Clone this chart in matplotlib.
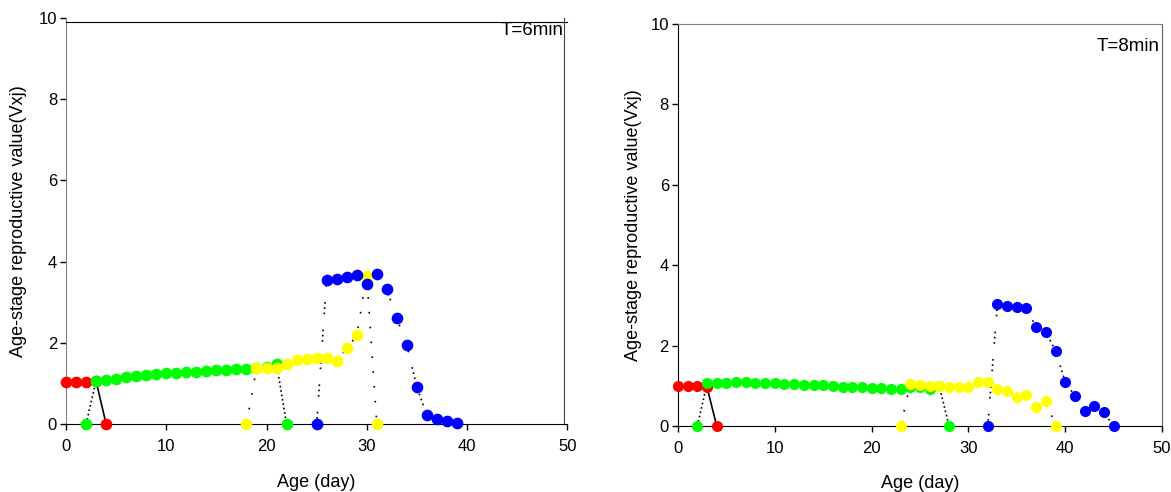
import matplotlib
matplotlib.use("Agg")
import matplotlib.pyplot as plt

plt.rcParams['font.family'] = ['Liberation Sans', 'DejaVu Sans']
plt.rcParams['lines.scale_dashes'] = False

# T=6min
egg_x6 = [0, 1, 2, 3, 4]
egg_y6 = [1.03, 1.03, 1.04, 1.05, 0]
larva_x6 = list(range(2, 23))
larva_y6 = [0, 1.07, 1.08, 1.12, 1.17, 1.19, 1.21, 1.23, 1.25, 1.26, 1.27,
            1.29, 1.31, 1.32, 1.33, 1.35, 1.36, 1.38, 1.40, 1.49, 0]
pupa_x6 = list(range(18, 32))
pupa_y6 = [0, 1.37, 1.39, 1.39, 1.49, 1.58, 1.59, 1.62, 1.63, 1.56, 1.86,
           2.18, 3.65, 0]
adult_x6 = list(range(25, 40))
adult_y6 = [0, 3.55, 3.58, 3.63, 3.67, 3.45, 3.69, 3.32, 2.60, 1.95, 0.90,
            0.22, 0.12, 0.07, 0.02]

# T=8min
egg_x8 = [0, 1, 2, 3, 4]
egg_y8 = [1.0, 1.0, 0.99, 0.96, 0]
larva_x8 = list(range(2, 29))
larva_y8 = [0, 1.06, 1.06, 1.08, 1.10, 1.10, 1.08, 1.07, 1.06, 1.05, 1.04,
            1.03, 1.02, 1.01, 1.00, 0.98, 0.97, 0.96, 0.95, 0.94, 0.93, 0.92,
            0.98, 0.96, 0.91, 0.99, 0]
pupa_x8 = list(range(23, 40))
pupa_y8 = [0, 1.04, 1.02, 1.0, 1.0, 0.98, 0.98, 0.96, 1.10, 1.10, 0.91, 0.87,
           0.71, 0.77, 0.48, 0.63, 0]
adult_x8 = list(range(32, 46))
adult_y8 = [0, 3.03, 2.99, 2.97, 2.93, 2.46, 2.33, 1.87, 1.10, 0.75, 0.38,
            0.50, 0.34, 0]

ticks_x = [0, 10, 20, 30, 40, 50]
ticks_y = [0, 2, 4, 6, 8, 10]

colors = ["#ff0000", "#00ff00", "#ffff00", "#0000ff"]
dashes = [None, (1.2, 2.0), (1.2, 9.5), (1.2, 2.6, 1.2, 2.6, 1.2, 11)]


def draw(ax, series, label, ms, txt_pos):
    for (x, y), c, d in zip(series, colors, dashes):
        line, = ax.plot(x, y, color="black", lw=1.2, zorder=2, clip_on=False)
        if d is not None:
            line.set_dashes(d)
        ax.plot(x, y, "o", color=c, mec=c, ms=ms, lw=0, zorder=3, clip_on=False)
    ax.set_xlim(0, 50)
    ax.set_ylim(0, 10)
    ax.set_xticks(ticks_x)
    ax.set_yticks(ticks_y)
    ax.tick_params(direction="out", length=4.5, width=1, labelsize=12)
    ax.tick_params(axis="x", pad=6)
    ax.tick_params(axis="y", pad=2)
    ax.set_xlabel("Age (day)", fontsize=13)
    ax.set_ylabel("Age-stage reproductive value(Vxj)", fontsize=13)
    ax.text(txt_pos[0], txt_pos[1], label, transform=ax.transAxes,
            ha="right", va="center", fontsize=13.5)


fig = plt.figure(figsize=(11.71, 4.92), dpi=100)

ax1 = fig.add_axes([0.0564, 0.1382, 0.428, 0.8252])
draw(ax1, [(egg_x6, egg_y6), (larva_x6, larva_y6), (pupa_x6, pupa_y6),
           (adult_x6, adult_y6)], "T=6min", 7.4, (0.992, 0.970))
ax1.spines["left"].set_color("#808080")
ax1.spines["top"].set_position(("data", 9.9))
ax1.spines["right"].set_position(("data", 49.65))
ax1.spines["right"].set_color("#404040")
ax1.xaxis.set_label_coords(0.5, -0.123)
ax1.yaxis.set_label_coords(-0.078, 0.5)

ax2 = fig.add_axes([0.579, 0.1341, 0.4133, 0.8171])
draw(ax2, [(egg_x8, egg_y8), (larva_x8, larva_y8), (pupa_x8, pupa_y8),
           (adult_x8, adult_y8)], "T=8min", 7.0, (0.996, 0.943))
ax2.spines["top"].set_color("#808080")
ax2.spines["right"].set_color("#606060")
ax2.xaxis.set_label_coords(0.5, -0.122)
ax2.yaxis.set_label_coords(-0.074, 0.5)

fig.savefig("out.png", dpi=100)
